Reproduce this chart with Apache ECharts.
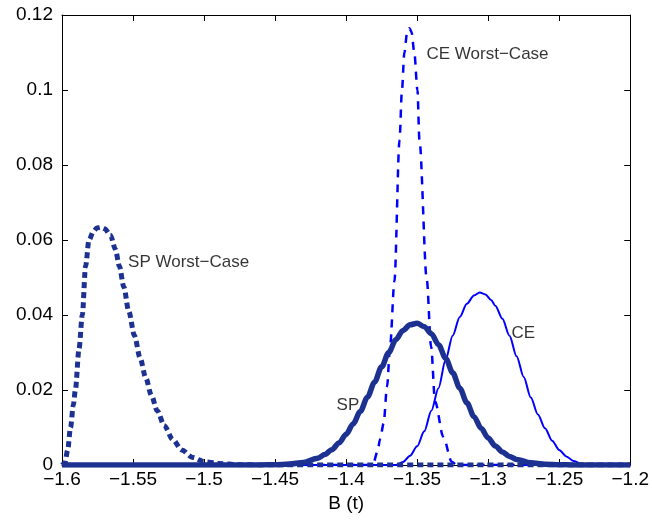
<!DOCTYPE html>
<html>
<head>
<meta charset="utf-8">
<script src="https://cdn.jsdelivr.net/npm/echarts@6/dist/echarts.min.js"></script>
<style>
html,body{margin:0;padding:0;background:#fff;}
#chart{width:652px;height:529px;}
</style>
</head>
<body>
<div id="chart"></div>
<script>
// ---- Data ----
var xTicks = { min: -1.6, max: -1.2, interval: 0.05 };
var yTicks = { min: 0, max: 0.12, interval: 0.02 };

var spWorstX = [-1.6, -1.598, -1.596, -1.594, -1.592, -1.5906, -1.588, -1.5857, -1.5834, -1.581, -1.578, -1.5755, -1.5729, -1.570, -1.5659, -1.5624, -1.5596, -1.5565, -1.553, -1.549, -1.545, -1.541, -1.537, -1.533, -1.528, -1.522, -1.5157, -1.508, -1.500, -1.490, -1.475, -1.46, -1.2];
var spWorstY = [0, 0.0005, 0.004, 0.010, 0.016, 0.020, 0.031, 0.040, 0.053, 0.060, 0.0622, 0.0632, 0.0634, 0.0630, 0.0613, 0.0575, 0.0530, 0.0475, 0.0410, 0.0345, 0.0285, 0.0232, 0.0185, 0.0145, 0.0105, 0.0068, 0.0040, 0.0020, 0.0009, 0.0004, 0.0001, 0, 0];

var spX = [-1.6, -1.46, -1.45, -1.44, -1.43, -1.42, -1.415, -1.41, -1.405, -1.40, -1.395, -1.39, -1.385, -1.38, -1.375, -1.37, -1.365, -1.36, -1.355, -1.35, -1.345, -1.34, -1.335, -1.33, -1.325, -1.32, -1.315, -1.31, -1.305, -1.30, -1.295, -1.29, -1.285, -1.28, -1.27, -1.26, -1.25, -1.24, -1.2];
var spY = [0, 0, 0.00007, 0.00024, 0.0007, 0.0018, 0.0028, 0.0041, 0.0059, 0.0082, 0.0110, 0.0143, 0.0181, 0.0221, 0.0262, 0.0300, 0.0334, 0.0359, 0.0374, 0.0378, 0.0369, 0.0350, 0.0321, 0.0285, 0.0246, 0.0205, 0.0166, 0.0129, 0.0098, 0.0072, 0.0051, 0.0035, 0.0023, 0.0015, 0.0006, 0.0002, 0.0001, 0, 0];

var ceX = [-1.6, -1.365, -1.36, -1.355, -1.35, -1.345, -1.34, -1.335, -1.33, -1.325, -1.32, -1.315, -1.31, -1.306, -1.302, -1.298, -1.295, -1.29, -1.285, -1.28, -1.275, -1.27, -1.265, -1.26, -1.255, -1.25, -1.245, -1.24, -1.235, -1.23, -1.225, -1.2];
var ceY = [0, 0, 0.0008, 0.0025, 0.005, 0.009, 0.0145, 0.0205, 0.028, 0.0345, 0.0395, 0.043, 0.0452, 0.046, 0.0455, 0.044, 0.0425, 0.039, 0.0345, 0.029, 0.0235, 0.018, 0.0135, 0.0098, 0.0065, 0.004, 0.0023, 0.0011, 0.0004, 0.0001, 0, 0];

var ceWorstX = [-1.6, -1.385, -1.381, -1.378, -1.376, -1.3736, -1.3712, -1.369, -1.366, -1.3624, -1.3607, -1.359, -1.357, -1.3554, -1.354, -1.352, -1.3498, -1.3484, -1.3432, -1.3402, -1.3374, -1.3316, -1.3257, -1.322, -1.2];
var ceWorstY = [0, 0, 0.0003, 0.0035, 0.007, 0.0111, 0.0209, 0.032, 0.049, 0.0867, 0.1, 0.11, 0.1155, 0.1165, 0.1155, 0.11, 0.1, 0.0867, 0.0493, 0.0316, 0.017, 0.0075, 0.0009, 0, 0];

var labelTexts = ['CE Worst\u2212Case', 'SP Worst\u2212Case', 'CE', 'SP'];
var labelX = [-1.3434, -1.5535, -1.2836, -1.4067];
var labelY = [0.1095, 0.0541, 0.0352, 0.0160];

var xTitle = 'B (t)';

// ---- Build ----
function pairs(xs, ys) { return xs.map(function (x, i) { return [x, ys[i]]; }); }
var FONT = '"Liberation Sans", Arial, Helvetica, sans-serif';
var NAVY = '#1c3190';
var BLUE = '#0000ff';

function fmt(v) {
  var s = String(+(+v).toFixed(3));
  return s.replace('-', '\u2212');
}

var axisLine = { show: true, onZero: false, lineStyle: { color: '#000', width: 1 } };
var tickIn = { show: true, inside: true, length: 6, lineStyle: { color: '#000', width: 1 } };

var chart = echarts.init(document.getElementById('chart'), null, { renderer: 'canvas' });
chart.setOption({
  animation: false,
  backgroundColor: '#fff',
  grid: { left: 62, right: 20, top: 15, bottom: 64, containLabel: false },
  xAxis: [
    {
      type: 'value', min: xTicks.min, max: xTicks.max, interval: xTicks.interval,
      position: 'bottom', axisLine: axisLine, axisTick: tickIn, splitLine: { show: false },
      axisLabel: { formatter: fmt, color: '#000', fontFamily: FONT, fontSize: 19, margin: 5, showMinLabel: true, showMaxLabel: true },
      name: xTitle, nameLocation: 'middle', nameGap: 22,
      nameTextStyle: { color: '#000', fontFamily: FONT, fontSize: 19 }
    },
    {
      type: 'value', min: xTicks.min, max: xTicks.max, interval: xTicks.interval,
      position: 'top', axisLine: axisLine, axisTick: tickIn, splitLine: { show: false },
      axisLabel: { show: false }
    }
  ],
  yAxis: [
    {
      type: 'value', min: yTicks.min, max: yTicks.max, interval: yTicks.interval,
      position: 'left', axisLine: axisLine, axisTick: tickIn, splitLine: { show: false },
      axisLabel: { formatter: fmt, color: '#000', fontFamily: FONT, fontSize: 19, margin: 9, showMinLabel: true, showMaxLabel: true }
    },
    {
      type: 'value', min: yTicks.min, max: yTicks.max, interval: yTicks.interval,
      position: 'right', axisLine: axisLine, axisTick: tickIn, splitLine: { show: false },
      axisLabel: { show: false }
    }
  ],
  series: [
    {
      type: 'line', name: 'CE', data: pairs(ceX, ceY), showSymbol: false,
      smooth: 0.3, smoothMonotone: 'x',
      lineStyle: { color: BLUE, width: 2 }, z: 2
    },
    {
      type: 'line', name: 'CE Worst-Case', data: pairs(ceWorstX, ceWorstY), showSymbol: false,
      smooth: 0.3, smoothMonotone: 'x',
      lineStyle: { color: BLUE, width: 2.5, type: [8, 7] }, z: 3
    },
    {
      type: 'line', name: 'SP', data: pairs(spX, spY), showSymbol: false,
      smooth: 0.3, smoothMonotone: 'x',
      lineStyle: { color: NAVY, width: 5.5 }, z: 4
    },
    {
      type: 'line', name: 'SP Worst-Case', data: pairs(spWorstX, spWorstY), showSymbol: false,
      smooth: 0.3, smoothMonotone: 'x',
      lineStyle: { color: NAVY, width: 5, type: [6, 4] }, z: 5
    },
    {
      type: 'scatter', symbolSize: 0, silent: true, z: 6,
      data: labelTexts.map(function (t, i) { return { value: [labelX[i], labelY[i]], name: t }; }),
      label: {
        show: true, position: 'right', distance: 0, formatter: '{b}',
        color: '#000', fontFamily: FONT, fontSize: 17, align: 'left', verticalAlign: 'middle'
      }
    }
  ]
});
</script>
</body>
</html>
